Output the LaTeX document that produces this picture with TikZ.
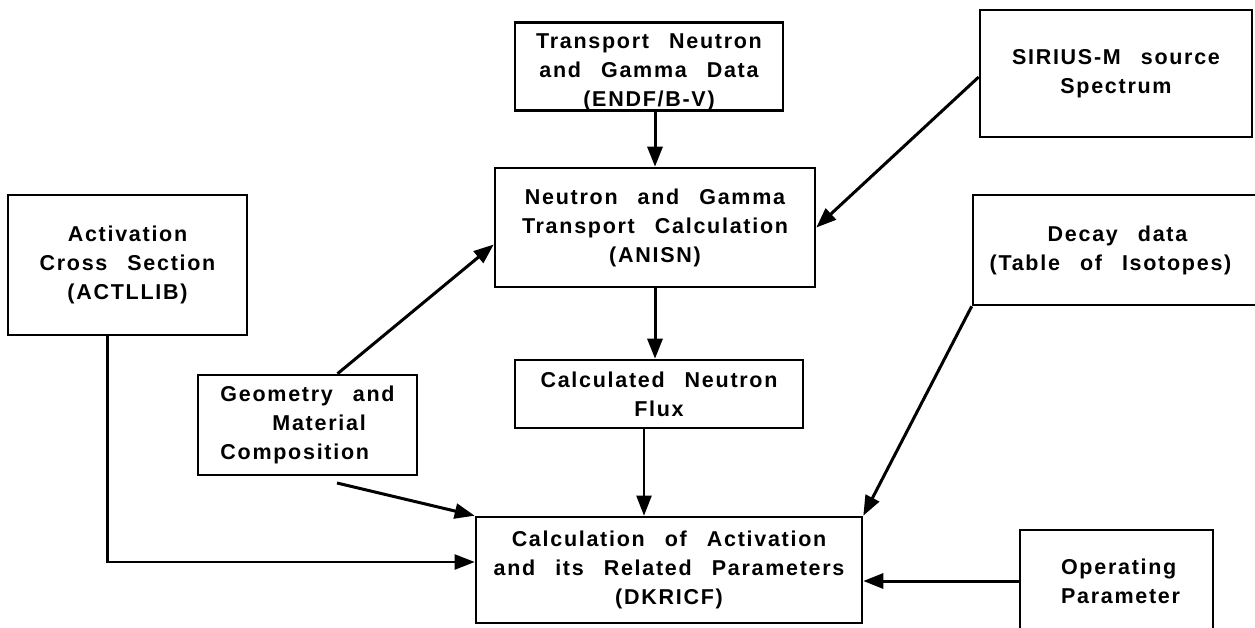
\documentclass[tikz,border=0pt]{standalone}
\usepackage{fontspec}
\newfontfamily\lbl[LetterSpace=8,WordSpace=2.6]{Liberation Sans Bold}
\usetikzlibrary{arrows.meta}
\tikzset{
  box/.style={draw, line width=2.6pt, inner sep=0pt, align=center,
    font=\lbl\fontsize{21.5}{29}\selectfont},
  arr/.style={line width=3pt, -{Triangle[length=20pt,width=15pt]}},
  thinarr/.style={line width=2.2pt, -{Triangle[length=20pt,width=15pt]}}
}
\begin{document}
\begin{tikzpicture}[x=1pt,y=-1pt]
\useasboundingbox[fill=white] (0,0) rectangle (1255,627);

\node[box, minimum width=268pt, minimum height=87pt] (tnd) at (649,66.5)
  {\rule{0pt}{26pt}Transport Neutron\\and Gamma Data\\(ENDF/B-V)};
\node[box, minimum width=320pt, minimum height=119pt] (anisn) at (655,227.5)
  {Neutron and Gamma\\Transport Calculation\\(ANISN)};
\node[box, minimum width=272pt, minimum height=127pt] (sirius) at (1116,73.5)
  {SIRIUS-M source\\Spectrum};
\node[box, minimum width=289pt, minimum height=110pt] (decay) at (1117.5,250)
  {Decay data\\(Table of Isotopes)\hspace*{14pt}};
\node[box, minimum width=288pt, minimum height=68pt] (flux) at (659,394)
  {Calculated Neutron\\Flux};
\node[box, minimum width=386pt, minimum height=106pt] (dkricf) at (669,570)
  {Calculation of Activation\\and its Related Parameters\\(DKRICF)};
\node[box, minimum width=193pt, minimum height=102pt, align=left] (oper) at (1116.5,581)
  {\hspace*{8pt}Operating\\\hspace*{8pt}Parameter};
\node[box, minimum width=239pt, minimum height=140pt] (act) at (127.5,265)
  {Activation\\Cross Section\\(ACTLLIB)};
\node[box, minimum width=219pt, minimum height=100pt, align=left] (geom) at (307.5,425)
  {Geometry and\\\hspace*{52pt}Material\\Composition};

\coordinate (gstart) at (337,483);

\draw[arr] ([xshift=6pt]tnd.south) -- (anisn.north);
\draw[arr] (anisn.south) -- ([xshift=-4pt]flux.north);
\draw[thinarr] ([xshift=-15pt]flux.south) -- ([xshift=-25pt]dkricf.north);
\draw[arr] ([yshift=-3.5pt]sirius.west) -- (anisn.east);
\draw[arr] ([xshift=30pt]geom.north) -- ([yshift=-17pt]anisn.west);
\draw[arr] (gstart) -- (dkricf.north west);
\draw[thinarr] ([xshift=-20pt]act.south) |- ([yshift=8pt]dkricf.west);
\draw[arr] (decay.south west) -- (dkricf.north east);
\draw[arr] (oper.west) -- (oper.west -| dkricf.east);
\end{tikzpicture}
\end{document}
